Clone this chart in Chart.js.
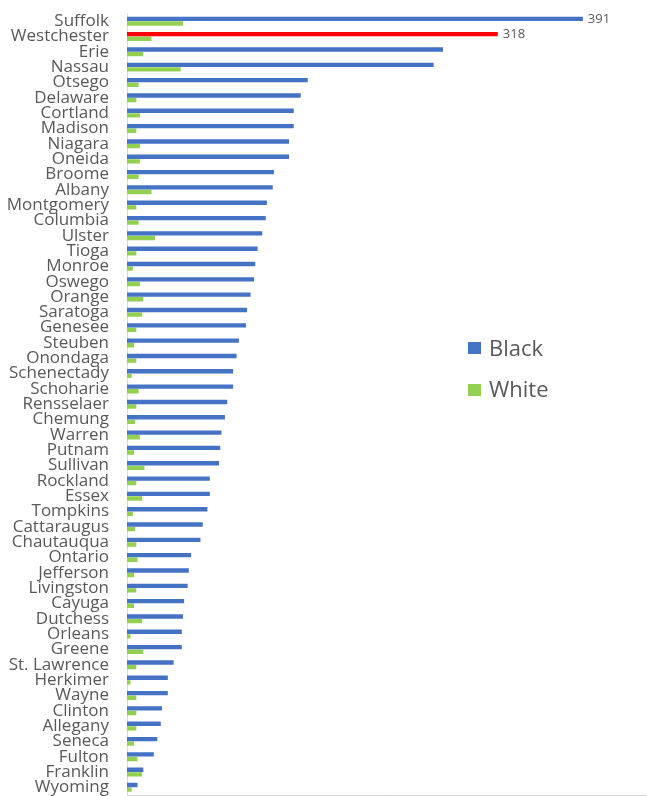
<!DOCTYPE html>
<html>
<head>
<meta charset="utf-8">
<script src="https://cdn.jsdelivr.net/npm/chart.js@4.4.1/dist/chart.umd.min.js"></script>
<style>
    html, body { margin: 0; padding: 0; background: #fff; }
    #wrap { position: relative; width: 647px; height: 796px; }
    .legend-item { position: absolute; left: 468px; font: 22px/22px 'Open Sans', sans-serif; color: #595959; }
    .legend-item .swatch { position: absolute; left: 0; width: 13px; height: 12px; }
    .legend-item .text { position: absolute; left: 21px; top: 0; white-space: nowrap; }
</style>
</head>
<body>
<div id="wrap">
    <canvas id="countyChart" width="647" height="796"></canvas>
    <div class="legend-item" style="top:335.5px"><span class="swatch" id="swBlack" style="top:6.5px"></span><span class="text">Black</span></div>
    <div class="legend-item" style="top:376.5px"><span class="swatch" id="swWhite" style="top:7px"></span><span class="text">White</span></div>
</div>
<script>
const COUNTIES = ['Suffolk', 'Westchester', 'Erie', 'Nassau', 'Otsego', 'Delaware', 'Cortland', 'Madison',
    'Niagara', 'Oneida', 'Broome', 'Albany', 'Montgomery', 'Columbia', 'Ulster', 'Tioga', 'Monroe', 'Oswego',
    'Orange', 'Saratoga', 'Genesee', 'Steuben', 'Onondaga', 'Schenectady', 'Schoharie', 'Rensselaer', 'Chemung',
    'Warren', 'Putnam', 'Sullivan', 'Rockland', 'Essex', 'Tompkins', 'Cattaraugus', 'Chautauqua', 'Ontario',
    'Jefferson', 'Livingston', 'Cayuga', 'Dutchess', 'Orleans', 'Greene', 'St. Lawrence', 'Herkimer', 'Wayne',
    'Clinton', 'Allegany', 'Seneca', 'Fulton', 'Franklin', 'Wyoming'];

const BLACK = [391, 318, 271, 263, 155, 149, 143, 143, 139, 139, 126, 125, 120, 119, 116, 112, 110, 109,
    106, 103, 102, 96, 94, 91, 91, 86, 84, 81, 80, 79, 71, 71, 69, 65, 63, 55,
    53, 52, 49, 48, 47, 47, 40, 35, 35, 30, 29, 26, 23, 14, 9];

const WHITE = [48, 21, 14, 46, 10, 8, 11, 8, 11, 11, 10, 21, 8, 10, 24, 8, 5, 11,
    14, 13, 8, 6, 8, 4, 10, 8, 7, 11, 6, 15, 8, 13, 5, 7, 8, 9,
    6, 8, 6, 13, 3, 14, 8, 3, 8, 8, 8, 6, 9, 13, 4];

// counties whose Black value gets a number printed after the bar
const LABELED = ['Suffolk', 'Westchester'];
const HIGHLIGHT = 'Westchester';

const BLUE = '#4472C4';
const GREEN = '#92D050';
const RED = '#FF0000';
const TEXT = '#595959';
const AXIS = '#D9D9D9';

document.getElementById('swBlack').style.background = BLUE;
document.getElementById('swWhite').style.background = GREEN;

// prints the value at the end of selected Black bars
const valueLabels = {
    id: 'valueLabels',
    afterDatasetsDraw(chart) {
        const ctx = chart.ctx;
        const meta = chart.getDatasetMeta(0);
        ctx.save();
        ctx.font = '13px "Open Sans", sans-serif';
        ctx.fillStyle = TEXT;
        ctx.textAlign = 'left';
        ctx.textBaseline = 'middle';
        LABELED.forEach(name => {
            const i = COUNTIES.indexOf(name);
            const bar = meta.data[i];
            ctx.fillText(String(BLACK[i]), bar.x + 5, bar.y);
        });
        ctx.restore();
    }
};

const ctx = document.getElementById('countyChart').getContext('2d');
new Chart(ctx, {
    type: 'bar',
    data: {
        labels: COUNTIES,
        datasets: [
            {
                label: 'Black',
                data: BLACK,
                backgroundColor: COUNTIES.map(c => c === HIGHLIGHT ? RED : BLUE),
                categoryPercentage: 0.6,
                barPercentage: 0.95
            },
            {
                label: 'White',
                data: WHITE,
                backgroundColor: GREEN,
                categoryPercentage: 0.6,
                barPercentage: 0.95
            }
        ]
    },
    options: {
        indexAxis: 'y',
        responsive: false,
        animation: false,
        layout: { padding: { top: 13.5, right: 0, bottom: 0, left: 0 } },
        plugins: {
            legend: { display: false }, // legend is the html block above
            tooltip: { enabled: false }
        },
        scales: {
            x: {
                min: 0,
                max: 446,
                grid: { display: false, drawTicks: false },
                ticks: { display: false },
                border: { display: true, color: AXIS, width: 1 },
                afterFit: scale => {
                    scale.height = 1;
                    scale.paddingLeft = 0;
                    scale.paddingRight = 0;
                }
            },
            y: {
                grid: { display: false, drawTicks: false },
                border: { display: true, color: AXIS, width: 1 },
                ticks: {
                    autoSkip: false,
                    padding: 18,
                    color: TEXT,
                    font: { family: "'Open Sans', sans-serif", size: 17 }
                },
                afterFit: scale => {
                    scale.width = 127;
                    // labels may overhang the plot edges, as rows are packed tight
                    scale.paddingTop = 0;
                    scale.paddingBottom = 0;
                }
            }
        }
    },
    plugins: [valueLabels]
});
</script>
</body>
</html>
